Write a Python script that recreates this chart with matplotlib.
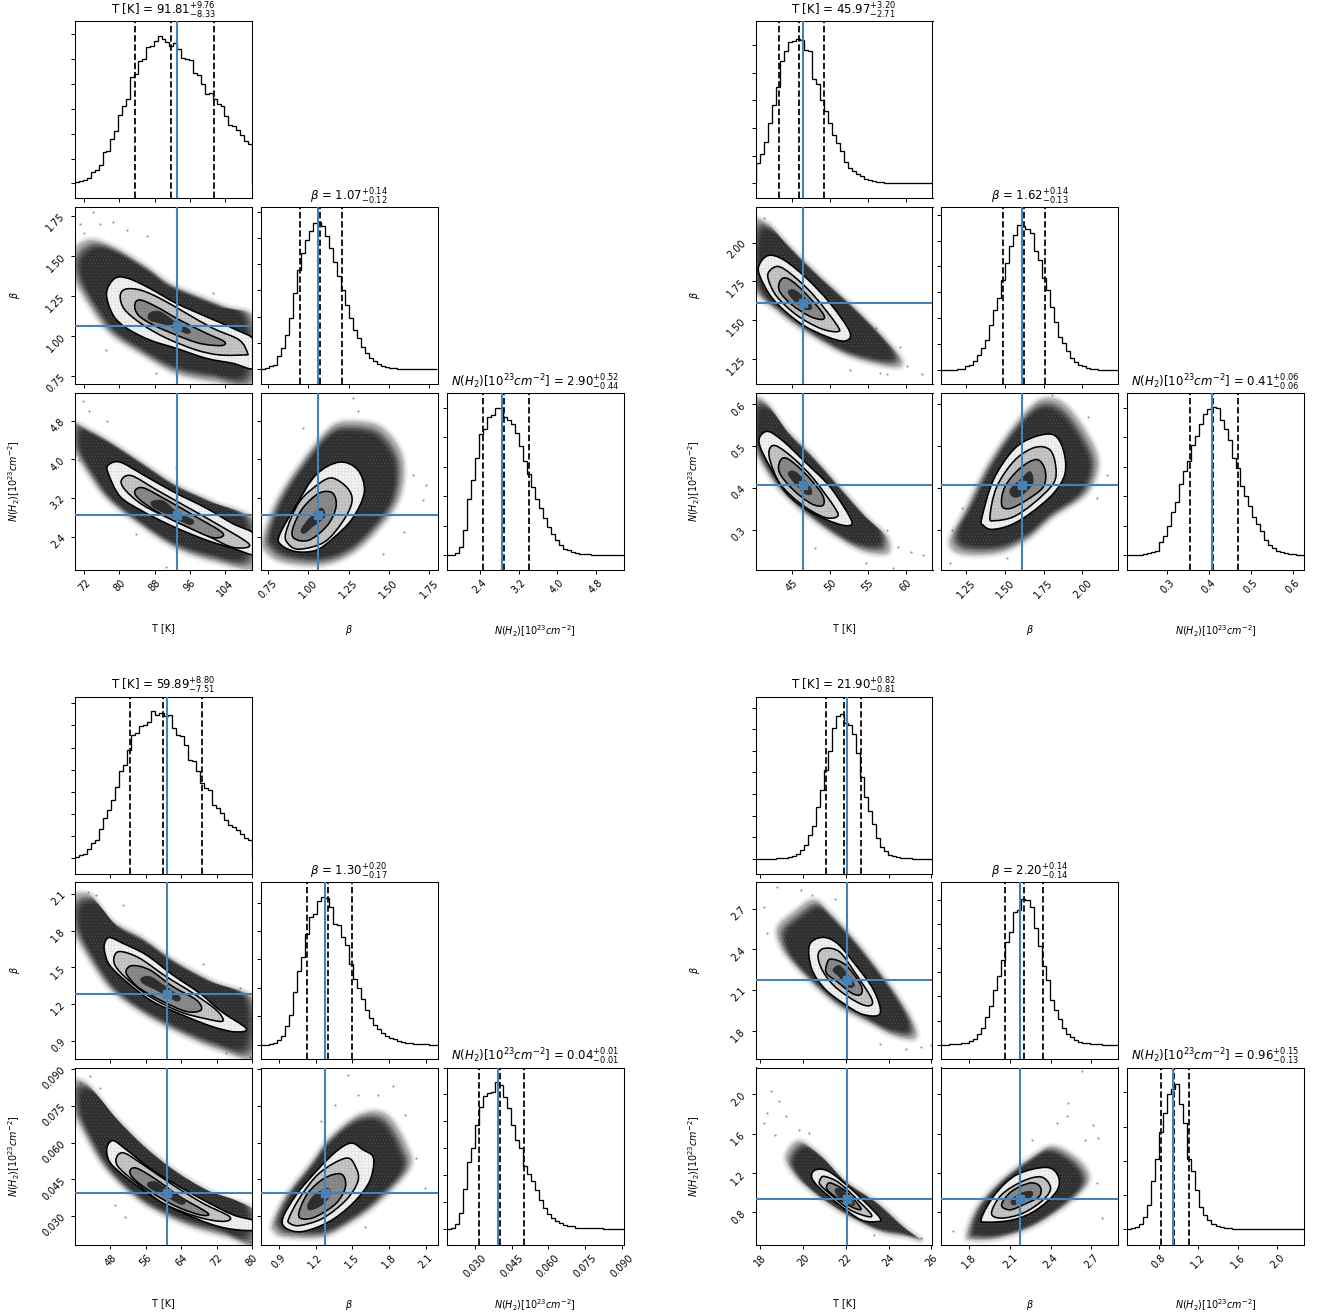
import numpy as np
import matplotlib
matplotlib.use("Agg")
import matplotlib.pyplot as plt
from matplotlib.path import Path
from matplotlib.patches import PathPatch

plt.rcParams['hatch.linewidth'] = 0.3

# ---- histograms, heights in units of the (unlabelled) y tick spacing ----
a_t_hist = [.05,.08,.12,.2,.44,.52,.75,1.25,1.3,1.8,2.1,2.77,3.1,3.4,4.3,4.4,4.93,5.0,5.5,5.53,5.73,5.93,5.8,5.7,5.53,5.65,5.4,5.03,5.0,4.97,4.45,4.35,4.0,3.58,3.65,3.38,3.18,3.13,2.7,2.37,2.3,2.14,1.96,1.7,1.6]
a_b_hist = [0,.03,.1,.16,.48,.8,1.31,1.94,2.9,3.79,4.42,4.93,5.25,5.57,5.6,5.44,5.06,4.61,4.1,3.53,3.02,2.45,1.94,1.5,1.18,.86,.61,.42,.29,.2,.13,.08,.05,.03,.01,0,0,0,0,0,0,0,0,0]
a_n_hist = [0,0,.07,.28,.85,1.9,2.55,3.3,4.1,4.3,4.7,4.75,5.0,5.0,4.7,4.6,4.45,4.15,3.7,3.2,2.75,2.3,1.9,1.6,1.25,.95,.7,.5,.33,.22,.16,.1,.07,.05,.03,.02,.01,0,0,0,0,0,0,0]
b_t_hist = [.75,1.05,1.5,2.18,2.84,3.48,4.41,4.77,5.11,5.13,5.22,5.17,4.81,4.77,3.75,3.57,3.02,2.6,2.18,1.76,1.46,1.16,.76,.55,.43,.35,.25,.16,.12,.07,.06,.05,.02,.01,0,0,0,0,0,0,0,0,0,0]
b_b_hist = [0,0,0,0,.01,.02,.12,.18,.35,.57,.83,1.15,1.73,2.32,2.77,3.48,4.13,4.77,5.23,5.61,5.55,5.45,5.29,4.58,4.26,3.54,3.09,2.44,1.86,1.28,1.02,.7,.44,.31,.18,.12,.05,.03,.01,0,0,0,0,0]
b_n_hist = [0,0,0,.01,.03,.07,.1,.15,.45,.65,1.0,1.45,1.8,2.4,2.85,3.2,3.75,4.05,4.45,4.8,4.95,5.05,5.0,4.6,4.3,3.9,3.3,2.95,2.35,2.0,1.65,1.3,1.05,.8,.5,.35,.25,.15,.09,.06,.04,.02,.01,0]
c_t_hist = [.07,.15,.18,.42,.68,.83,1.33,1.81,2.18,2.64,3.24,3.92,4.22,4.89,5.57,5.65,5.95,6.02,6.17,6.66,6.48,6.55,6.4,6.48,5.87,5.57,5.5,5.12,4.44,4.37,3.92,3.39,3.16,3.09,2.41,2.26,2.03,1.73,1.51,1.43,1.28,1.08,.9,.83]
c_b_hist = [0,0,.01,.05,.15,.3,.65,1.05,1.85,2.6,3.1,3.9,4.5,4.6,5.05,5.2,5.15,4.86,4.25,4.2,3.8,3.5,2.85,2.3,2.0,1.6,1.2,.95,.7,.55,.42,.3,.22,.18,.12,.08,.06,.05,.03,.02,.01,.01,0,0]
c_n_hist = [0,.03,.2,.6,1.5,2.5,3.0,3.85,4.55,4.95,5.05,5.1,5.45,5.36,4.9,4.5,3.85,3.3,3.0,2.35,2.05,1.8,1.45,1.1,.8,.55,.4,.3,.22,.17,.13,.1,.06,.05,.04,.035,.03,.03,.03,.02,.01,.01,0,0]
d_t_hist = [0,0,0,0,.01,.02,.03,.05,.1,.15,.22,.4,.65,1.1,1.5,2.4,3.2,4.1,5.0,6.08,6.6,6.7,6.3,6.2,5.8,4.9,3.8,2.85,2.2,1.6,.95,.55,.35,.18,.12,.08,.05,.03,.02,.01,0,0,0,0]
d_b_hist = [0,0,.01,.02,.03,.05,.08,.14,.25,.45,.7,1.15,1.6,2.25,2.85,3.5,4.25,4.7,5.53,5.6,6.05,6.0,5.7,4.85,4.1,3.25,2.7,1.85,1.45,1.05,.7,.45,.32,.2,.12,.08,.05,.03,.02,.01,0,0,0,0]
d_n_hist = [.01,.02,.05,.15,.35,.7,1.4,2.05,2.85,3.4,3.95,4.1,4.25,3.65,3.1,2.05,1.7,1.15,.65,.42,.28,.15,.09,.05,.03,.02,.01,.01,0,0,0,0,0,0,0,0,0,0,0,0,0,0,0,0]

# ---- panel A: T vs beta ----
a_tb_cloud = [(69.2,1.514),(73,1.597),(78.6,1.556),(86.2,1.432),(91.4,1.328),(97.4,1.256),(104.2,1.183),(111,1.10),(111,.707),(102,.717),(92.9,.769),(84.7,.893),(77.9,1.018),(73.4,1.183),(69.6,1.369)]
a_tb_c1 = [(77.1,1.266),(79,1.359),(82,1.359),(86.9,1.297),(92.9,1.204),(99.7,1.121),(105.7,1.049),(111,.966),(111,.80),(105.7,.831),(99.7,.862),(92.9,.924),(86.9,.976),(81.7,1.049),(78.6,1.131)]
a_tb_c2 = [(80.2,1.245),(81.3,1.291),(84.7,1.287),(89.2,1.235),(95.2,1.142),(101.2,1.049),(107.2,.976),(109.1,.893),(108.4,.883),(102.7,.883),(97.4,.914),(90.7,.987),(85.4,1.069),(81.3,1.162)]
a_tb_c3 = [(83.5,1.194),(84.7,1.225),(88.4,1.183),(93.7,1.10),(99.7,1.018),(103.8,.966),(103.1,.941),(98.2,.955),(92.9,1.007),(87.7,1.069),(84.3,1.131)]
a_tb_core = [(86.9,1.142),(89.2,1.152),(92.6,1.09),(95.9,1.038),(95.2,1.018),(90.7,1.069),(86.9,1.10)]
a_tb_dots = [(74,1.77),(78.6,1.71),(86.2,1.62),(71.9,1.64),(77.1,.914),(88.4,.769),(101.2,1.266),(75.6,1.70),(71.1,1.70),(81.7,1.66)]
# panel A: T vs N
a_tn_cloud = [(69.2,4.75),(72.6,4.64),(77.9,4.37),(85.4,3.92),(92.9,3.47),(101.2,3.12),(111,2.71),(111,1.78),(102,1.88),(92.9,2.16),(84.7,2.64),(77.1,3.19),(72.6,3.75),(69.2,4.30)]
a_tn_c1 = [(77.5,3.88),(80.2,3.94),(85.4,3.68),(92.2,3.33),(99.7,2.99),(105.7,2.67),(111,2.43),(111,2.03),(105.7,2.16),(99.7,2.33),(92.2,2.61),(85.4,2.92),(80.2,3.23),(77.5,3.71)]
a_tn_c2 = [(80.5,3.57),(82.8,3.66),(88.4,3.37),(95.2,3.02),(102,2.67),(109.5,2.24),(105.7,2.18),(99.7,2.43),(92.2,2.74),(85.4,3.05),(81.3,3.37)]
a_tn_c3 = [(83.5,3.33),(85.4,3.41),(90.7,3.16),(97.4,2.81),(103.5,2.47),(101.2,2.38),(95.2,2.61),(89.2,2.88),(84.7,3.16)]
a_tn_core = [(87.3,3.12),(89.9,3.14),(92.9,2.92),(96.7,2.74),(95.9,2.65),(92.2,2.81),(88,2.99)]
a_tn_dots = [(71.7,5.21),(73.2,5.0),(77.3,4.8),(70.8,3.99),(83.9,2.45),(92.9,3.82),(90.7,1.78)]
# panel A: beta vs N
a_bn_cloud = [(.717,2.36),(.80,3.12),(.944,3.88),(1.131,4.64),(1.275,4.78),(1.462,4.64),(1.586,4.02),(1.565,3.19),(1.42,2.50),(1.255,2.02),(1.068,1.81),(.841,1.88),(.737,2.09)]
a_bn_c1 = [(.82,2.43),(.924,3.05),(1.048,3.68),(1.193,3.94),(1.307,3.78),(1.348,3.33),(1.275,2.78),(1.151,2.36),(1.048,2.12),(.924,2.09),(.83,2.23)]
a_bn_c2 = [(.861,2.50),(.944,3.12),(1.068,3.50),(1.151,3.61),(1.244,3.40),(1.271,3.12),(1.213,2.71),(1.10,2.29),(.944,2.14),(.872,2.26)]
a_bn_c3 = [(.903,2.57),(.965,2.99),(1.068,3.30),(1.151,3.30),(1.172,3.02),(1.12,2.64),(1.006,2.33),(.913,2.36)]
a_bn_core = [(.955,2.54),(1.006,2.78),(1.079,2.99),(1.10,2.81),(1.027,2.61),(.975,2.47)]
a_bn_dots = [(1.275,5.27),(1.73,3.47),(1.648,3.68),(1.596,2.50),(1.462,2.05),(.965,4.64),(1.71,3.16),(1.307,4.99)]

# ---- panel B ----
b_tb_cloud = [(39.7,2.116),(41.7,2.126),(44.3,1.997),(47.8,1.824),(53.1,1.587),(56.6,1.415),(59.2,1.264),(59.2,1.2),(56.6,1.21),(52.2,1.274),(47.8,1.393),(43.4,1.544),(39.7,1.738)]
b_tb_c1 = [(40.7,1.857),(41.9,1.917),(43.9,1.889),(46.9,1.771),(50,1.609),(52.6,1.425),(52,1.365),(49.6,1.393),(46.1,1.479),(42.6,1.63),(40.8,1.781)]
b_tb_c2 = [(42,1.814),(43.2,1.846),(45,1.792),(47.8,1.663),(50.9,1.469),(51,1.425),(48.7,1.447),(45.6,1.533),(43,1.652),(41.9,1.76)]
b_tb_c3 = [(43.4,1.749),(44.3,1.771),(46.1,1.706),(48.9,1.555),(49.1,1.505),(47.4,1.523),(45,1.598),(43.4,1.684)]
b_tb_core = [(44.5,1.684),(45.4,1.691),(47.2,1.62),(47.6,1.576),(46.7,1.57),(45.2,1.63)]
b_tb_dots = [(57.5,1.151),(62.1,1.151),(60.1,1.205),(56.6,1.156),(52.6,1.177),(41.3,2.16),(56.1,1.447),(59.2,1.328)]
b_tn_cloud = [(39.7,.61),(41.7,.602),(44.3,.539),(47.8,.475),(51.3,.403),(54.8,.331),(57.5,.283),(57.5,.244),(54,.252),(49.6,.299),(45.2,.363),(42.1,.427),(39.7,.515)]
b_tn_c1 = [(40.8,.523),(41.9,.535),(43.9,.511),(46.9,.459),(50,.403),(52.6,.331),(52.7,.311),(50.9,.315),(47.4,.343),(44.3,.387),(42.1,.451),(40.8,.499)]
b_tn_c2 = [(42.1,.495),(43,.5),(45.2,.471),(47.8,.423),(50.7,.351),(50.9,.331),(49.1,.331),(46.1,.363),(43.4,.411),(42.1,.467)]
b_tn_c3 = [(43.4,.463),(44.3,.471),(46.5,.439),(48.9,.387),(49.1,.359),(47.6,.362),(45.2,.395),(43.4,.435)]
b_tn_core = [(44.5,.435),(45.4,.439),(47.2,.407),(47.6,.387),(46.7,.387),(45.2,.415)]
b_tn_dots = [(60.7,.248),(59,.26),(62.3,.24),(58.3,.208),(48,.256),(57.5,.299),(54.8,.22)]
b_bn_cloud = [(1.145,.276),(1.253,.355),(1.382,.451),(1.554,.547),(1.726,.61),(1.877,.602),(2.028,.531),(2.103,.459),(2.028,.387),(1.813,.331),(1.64,.276),(1.447,.244),(1.21,.244)]
b_bn_c1 = [(1.35,.327),(1.425,.419),(1.554,.491),(1.683,.521),(1.813,.527),(1.877,.491),(1.888,.435),(1.813,.387),(1.662,.339),(1.533,.311),(1.414,.301),(1.36,.311)]
b_bn_c2 = [(1.403,.331),(1.447,.403),(1.565,.467),(1.694,.497),(1.791,.491),(1.828,.451),(1.813,.411),(1.683,.363),(1.554,.331),(1.436,.322)]
b_bn_c3 = [(1.479,.359),(1.5,.403),(1.597,.447),(1.705,.468),(1.759,.443),(1.748,.403),(1.64,.371),(1.533,.351)]
b_bn_core = [(1.533,.395),(1.597,.419),(1.662,.439),(1.679,.411),(1.608,.383),(1.554,.379)]
b_bn_dots = [(1.156,.299),(1.22,.351),(1.802,.622),(2.157,.431),(2.092,.375),(2.039,.57),(1.145,.22),(1.511,.232)]

# ---- panel C ----
c_tb_cloud = [(39.2,2.064),(43.3,2.092),(48.6,1.874),(55.4,1.737),(62.9,1.546),(71.2,1.383),(81,1.219),(81,.77),(72.7,.824),(62.9,.974),(54.6,1.138),(47.8,1.328),(42.6,1.601),(39.2,1.846)]
c_tb_c1 = [(46.7,1.696),(47.8,1.743),(50.8,1.696),(56.1,1.601),(62.1,1.437),(68.2,1.287),(73.1,1.137),(78.7,.999),(76.1,.972),(71.2,1.013),(65.2,1.096),(57.6,1.219),(51.6,1.383),(47.8,1.519),(46.7,1.628)]
c_tb_c2 = [(49,1.601),(50.5,1.628),(54.6,1.574),(60.6,1.424),(66.7,1.287),(71.9,1.151),(73.4,1.061),(69.7,1.078),(63.6,1.138),(56.9,1.26),(51.6,1.41),(49,1.519)]
c_tb_c3 = [(51.6,1.478),(53.1,1.514),(56.9,1.478),(62.1,1.342),(67.4,1.233),(68.5,1.151),(65.2,1.138),(59.9,1.219),(54.6,1.328),(52,1.424)]
c_tb_core = [(55,1.41),(56.9,1.424),(59.9,1.356),(63.6,1.26),(62.9,1.225),(59.1,1.301),(55.4,1.369)]
c_tb_dots = [(42.9,2.119),(68.9,1.525),(50.8,2.01),(77.2,1.328),(74.2,.797),(79.5,.77),(44.8,2.09)]
c_tn_cloud = [(39.2,.0850),(42.9,.0836),(48.6,.0714),(55.4,.0591),(62.9,.0483),(71.2,.0394),(81,.032),(81,.0183),(74.2,.0217),(65.2,.0265),(55.4,.0353),(47.1,.0489),(41.8,.0646),(39.2,.0755)]
c_tn_c1 = [(47.2,.0578),(48.6,.0608),(51.6,.0571),(56.9,.0496),(62.9,.0428),(68.9,.0367),(75.7,.0306),(81,.0279),(81,.0245),(76.5,.0245),(71.2,.0265),(63.6,.032),(56.9,.0387),(50.8,.0469),(47.8,.0523)]
c_tn_c2 = [(49.5,.0544),(51.2,.0557),(55.4,.0510),(62.1,.0428),(68.9,.0353),(74.9,.0299),(73.4,.0279),(67.4,.0299),(59.9,.0353),(53.9,.0435),(49.7,.0503)]
c_tn_c3 = [(52.4,.0483),(53.9,.0496),(58.4,.0449),(63.6,.0381),(70,.0313),(68.2,.0306),(62.9,.0340),(57.6,.0394),(53.5,.0449)]
c_tn_core = [(56.5,.0435),(58.4,.0439),(61.4,.0401),(64.8,.0367),(64,.0349),(60.6,.0381),(56.9,.0415)]
c_tn_dots = [(43.3,.0873),(41.1,.0843),(45.6,.0823),(49,.0347),(51.2,.0299),(79.5,.0197)]
c_bn_cloud = [(.851,.0279),(.96,.0387),(1.151,.0510),(1.314,.0619),(1.56,.0714),(1.778,.0714),(1.941,.0591),(1.969,.0496),(1.723,.036),(1.505,.0279),(1.26,.0217),(.96,.0217),(.864,.0238)]
c_bn_c1 = [(.932,.0292),(1.042,.0387),(1.205,.0483),(1.369,.0564),(1.491,.0598),(1.587,.0571),(1.674,.0537),(1.641,.0442),(1.505,.0353),(1.314,.0279),(1.096,.0238),(.96,.0251)]
c_bn_c2 = [(.982,.0292),(1.069,.0374),(1.232,.0476),(1.451,.0537),(1.532,.0496),(1.546,.0442),(1.451,.0367),(1.26,.0292),(1.069,.0262),(.987,.0272)]
c_bn_c3 = [(1.063,.0313),(1.137,.0394),(1.273,.0455),(1.41,.0472),(1.445,.0421),(1.369,.0353),(1.205,.0299),(1.096,.0289)]
c_bn_core = [(1.137,.0347),(1.192,.0387),(1.301,.0415),(1.314,.0381),(1.232,.034),(1.151,.0326)]
c_bn_dots = [(1.464,.0877),(1.71,.0795),(1.832,.083),(1.355,.0755),(1.928,.0714),(2.023,.0537),(2.091,.0415),(1.601,.0258),(1.246,.0687),(1.546,.0795)]

# ---- panel D ----
d_tb_cloud = [(18.8,2.554),(19.6,2.678),(20.5,2.764),(21.3,2.665),(22.5,2.456),(23.6,2.234),(24.5,2.037),(25.2,1.84),(25.2,1.741),(24.2,1.766),(23,1.865),(21.6,1.988),(20.2,2.185),(19.1,2.382)]
d_tb_c1 = [(20.3,2.431),(20.9,2.488),(21.6,2.444),(22.4,2.296),(23.3,2.099),(23.6,1.926),(22.8,1.919),(21.9,2.0),(21,2.111),(20.4,2.259)]
d_tb_c2 = [(20.7,2.357),(21,2.407),(21.7,2.382),(22.4,2.234),(23.2,2.037),(23.1,1.983),(22.5,2.012),(21.5,2.123),(20.9,2.246)]
d_tb_c3 = [(21.1,2.283),(21.3,2.328),(22,2.283),(22.7,2.136),(22.7,2.067),(22.3,2.074),(21.6,2.16),(21.1,2.222)]
d_tb_core = [(21.4,2.246),(21.7,2.279),(22.1,2.21),(22.4,2.136),(22.1,2.123),(21.7,2.197)]
d_tb_dots = [(18.2,2.71),(18.8,2.863),(20.4,2.801),(21.5,2.771),(25.5,1.68),(26,1.69),(24.8,1.667),(23.6,1.704),(18.3,2.518),(19.9,2.838)]
d_tn_cloud = [(19.2,1.37),(19.8,1.522),(20.8,1.387),(22,1.116),(23.5,.895),(24.8,.641),(25.5,.522),(24.8,.556),(23.6,.607),(22,.777),(20.6,.98),(19.6,1.183)]
d_tn_c1 = [(20.4,1.166),(20.6,1.234),(21.2,1.217),(22.2,1.048),(23.1,.861),(23.6,.743),(23.5,.709),(22.7,.726),(21.6,.895),(20.7,1.065)]
d_tn_c2 = [(20.8,1.133),(21,1.166),(21.7,1.099),(22.7,.895),(23.2,.777),(23,.76),(22.2,.827),(21.3,.98),(20.8,1.082)]
d_tn_c3 = [(21.1,1.065),(21.3,1.099),(22,1.014),(22.7,.844),(22.4,.844),(21.7,.929),(21.2,1.014)]
d_tn_core = [(21.5,1.031),(21.8,1.031),(22.4,.895),(22.2,.878),(21.7,.946)]
d_tn_dots = [(18.3,1.81),(19.2,1.777),(18.5,2.031),(18.7,1.59),(18.2,1.709),(18.9,1.929),(25.5,.539),(23.3,.573),(20.3,1.607),(19.8,1.641)]
d_bn_cloud = [(1.778,.573),(1.852,.844),(2.024,1.116),(2.246,1.353),(2.419,1.472),(2.616,1.319),(2.678,1.116),(2.517,.878),(2.271,.658),(2.024,.539),(1.827,.522)]
d_bn_c1 = [(1.889,.743),(1.987,.98),(2.148,1.183),(2.369,1.258),(2.456,1.166),(2.443,1.014),(2.295,.827),(2.123,.726),(1.926,.702)]
d_bn_c2 = [(1.963,.794),(2.037,.98),(2.197,1.12),(2.332,1.16),(2.399,1.052),(2.345,.929),(2.197,.794),(2.037,.743)]
d_bn_c3 = [(2.037,.878),(2.111,1.014),(2.246,1.099),(2.32,1.065),(2.315,.963),(2.197,.878),(2.098,.827)]
d_bn_core = [(2.111,.929),(2.185,.997),(2.258,1.014),(2.258,.963),(2.185,.912),(2.123,.878)]
d_bn_dots = [(2.517,1.777),(2.443,1.709),(2.653,1.539),(2.751,1.556),(2.714,1.692),(2.776,.743),(2.259,1.539),(1.679,.607),(2.53,1.912),(2.739,1.099),(2.628,2.234)]

# axis limits, tick labels, quantiles, truths and hist y ranges per corner plot
a_lims = [(69.96, 110.1), (.702, 1.803), (1.71, 5.37)]
b_lims = [(40.2, 63.5), (1.087, 2.23), (.204, .627)]
c_lims = [(40, 80), (.75, 2.197), (.0185, .0906)]
d_lims = [(17.78, 26.05), (1.59, 2.897), (.475, 2.272)]

a_ticks = [["72", "80", "88", "96", "104"], ["0.75", "1.00", "1.25", "1.50", "1.75"], ["2.4", "3.2", "4.0", "4.8"]]
b_ticks = [["45", "50", "55", "60"], ["1.25", "1.50", "1.75", "2.00"], ["0.3", "0.4", "0.5", "0.6"]]
c_ticks = [["48", "56", "64", "72", "80"], ["0.9", "1.2", "1.5", "1.8", "2.1"], ["0.030", "0.045", "0.060", "0.075", "0.090"]]
d_ticks = [["18", "20", "22", "24", "26"], ["1.8", "2.1", "2.4", "2.7"], ["0.8", "1.2", "1.6", "2.0"]]

a_quant = [(83.48, 91.81, 101.57), (.95, 1.07, 1.21), (2.46, 2.90, 3.42)]
b_quant = [(43.26, 45.97, 49.17), (1.49, 1.62, 1.76), (.355, .41, .469)]
c_quant = [(52.38, 59.89, 68.69), (1.13, 1.30, 1.50), (.0319, .0401, .0500)]
d_quant = [(21.09, 21.90, 22.72), (2.06, 2.20, 2.34), (.82, .955, 1.10)]

a_truth = [93.2, 1.06, 2.855]
b_truth = [46.5, 1.61, .4064]
c_truth = [60.9, 1.28, .0393]
d_truth = [22.05, 2.17, .938]

a_titles = [("91.81", "8.33", "9.76"), ("1.07", "0.12", "0.14"), ("2.90", "0.44", "0.52")]
b_titles = [("45.97", "2.71", "3.20"), ("1.62", "0.13", "0.14"), ("0.41", "0.06", "0.06")]
c_titles = [("59.89", "7.51", "8.80"), ("1.30", "0.17", "0.20"), ("0.04", "0.01", "0.01")]
d_titles = [("21.90", "0.81", "0.82"), ("2.20", "0.14", "0.14"), ("0.96", "0.13", "0.15")]

a_hist_y = [(-.59, 6.54, 6), (-.57, 6.18, 6), (-.51, 5.51, 5)]
b_hist_y = [(-.53, 5.86, 5), (-.56, 6.3, 6), (-.51, 5.51, 5)]
c_hist_y = [(-.68, 7.3, 7), (-.51, 5.73, 5), (-.57, 6.0, 6)]
d_hist_y = [(-.68, 7.52, 7), (-.6, 6.76, 6), (-.45, 4.73, 4)]

names = ["T [K]", r"$\beta$", r"$N(H_2)[10^{23}cm^{-2}]$"]
blue = "#4682b4"

W, H = 1318, 1314
COLS_L = [75, 260.5, 446.5]
COLS_R = [755.5, 941, 1127]
ROWS_T = [21, 207, 393]
ROWS_B = [696.5, 882, 1067.5]
SIZE = 177

fig = plt.figure(figsize=(W / 100, H / 100), dpi=100)


def smooth(points, scale=1.0):
    # closed Catmull-Rom style curve through the read points
    pts = np.array(points, dtype=float)
    pts = pts.mean(axis=0) + (pts - pts.mean(axis=0)) * scale
    prev, nxt = np.roll(pts, 1, axis=0), np.roll(pts, -1, axis=0)
    nxt2 = np.roll(pts, -2, axis=0)
    verts = [pts[0]]
    codes = [Path.MOVETO]
    for p0, p1, p2, p3 in zip(prev, pts, nxt, nxt2):
        verts += [p1 + (p2 - p0) / 6, p2 - (p3 - p1) / 6, p2]
        codes += [Path.CURVE4] * 3
    return Path(verts, codes)


def new_axes(x, y):
    ax = fig.add_axes([x / W, 1 - (y + SIZE) / H, SIZE / W, SIZE / H])
    for s in ax.spines.values():
        s.set_linewidth(.75)
    ax.tick_params(length=2.9, width=.7, labelsize=7, pad=2.8)
    return ax


def draw_pair(ax, cloud, c1, c2, c3, core, dots):
    px, py = zip(*dots)
    ax.scatter(px, py, s=2.5, color="k", alpha=.4, linewidths=0, zorder=1)
    # scatter cloud: soft rim, then denser towards the middle
    for lw, alpha in [(6, .06), (4, .08), (2, .12)]:
        ax.add_patch(PathPatch(smooth(cloud), fc="none", ec="#444444", lw=lw, alpha=alpha, zorder=1.1))
    levels = [(1.0, .2), (.98, .22), (.96, .25), (.94, .3), (.92, .35), (.9, .4), (.88, .5), (.86, .6)]
    for n, (scale, alpha) in enumerate(levels):
        ax.add_patch(PathPatch(smooth(cloud, scale), fc="#2c2c2c", ec="none", alpha=alpha, zorder=1.2 + n / 100))
    ax.add_patch(PathPatch(smooth(cloud), fc="none", ec=(1, 1, 1, .14), lw=0, hatch=".....", zorder=1.4))
    for pts, col, z in [(c1, "#f2f2f2", 2), (c2, "#c6c6c6", 2.2), (c3, "#8a8a8a", 2.4)]:
        ax.add_patch(PathPatch(smooth(pts), fc=col, ec="k", lw=1.15, zorder=z))
        ax.add_patch(PathPatch(smooth(pts), fc="none", ec=(0, 0, 0, .1), lw=0, hatch="+++++", zorder=z + .05))
    ax.add_patch(PathPatch(smooth(core), fc="#2e2e2e", ec="#2e2e2e", lw=.6, zorder=2.6))


def draw_corner(x0s, y0s, lims, ticks, quant, truth, titles, hist_y, hists, pairs):
    tick_vals = [[float(s) for s in t] for t in ticks]
    for i in range(3):
        # diagonal
        ax = new_axes(x0s[i], y0s[i])
        edges = np.linspace(lims[i][0], lims[i][1], len(hists[i]) + 1)
        ax.stairs(hists[i], edges, color="k", lw=.95, zorder=3)
        for q in quant[i]:
            ax.axvline(q, color="k", ls="dashed", lw=1.25, zorder=4)
        ax.axvline(truth[i], color=blue, lw=1.5, zorder=5)
        ax.set_xlim(lims[i])
        ax.set_ylim(hist_y[i][0], hist_y[i][1])
        ax.set_yticks(range(hist_y[i][2] + 1))
        ax.set_yticklabels([])
        ax.set_xticks(tick_vals[i])
        med, lo, hi = titles[i]
        ax.set_title(f"{names[i]} = ${med}_{{-{lo}}}^{{+{hi}}}$", fontsize=8.5, pad=4.6)
        if i == 2:
            ax.set_xticklabels(ticks[i], rotation=45)
            ax.set_xlabel(names[i], fontsize=6.9)
            ax.xaxis.set_label_coords(.5, -.3)
        else:
            ax.set_xticklabels([])
        # below the diagonal
        for j in range(i):
            ax = new_axes(x0s[j], y0s[i])
            draw_pair(ax, *pairs[(j, i)])
            ax.axvline(truth[j], color=blue, lw=1.5, zorder=5)
            ax.axhline(truth[i], color=blue, lw=1.5, zorder=5)
            ax.plot(truth[j], truth[i], "s", color=blue, ms=6, zorder=6)
            ax.set_xlim(lims[j])
            ax.set_ylim(lims[i])
            ax.set_xticks(tick_vals[j])
            ax.set_yticks(tick_vals[i])
            if i == 2:
                ax.set_xticklabels(ticks[j], rotation=45)
                ax.set_xlabel(names[j], fontsize=6.9)
                ax.xaxis.set_label_coords(.5, -.3)
            else:
                ax.set_xticklabels([])
            if j == 0:
                ax.set_yticklabels(ticks[i], rotation=45)
                ax.set_ylabel(names[i], fontsize=6.9)
                ax.yaxis.set_label_coords(-.3, .5)
            else:
                ax.set_yticklabels([])


draw_corner(COLS_L, ROWS_T, a_lims, a_ticks, a_quant, a_truth, a_titles, a_hist_y,
            [a_t_hist, a_b_hist, a_n_hist],
            {(0, 1): (a_tb_cloud, a_tb_c1, a_tb_c2, a_tb_c3, a_tb_core, a_tb_dots),
             (0, 2): (a_tn_cloud, a_tn_c1, a_tn_c2, a_tn_c3, a_tn_core, a_tn_dots),
             (1, 2): (a_bn_cloud, a_bn_c1, a_bn_c2, a_bn_c3, a_bn_core, a_bn_dots)})
draw_corner(COLS_R, ROWS_T, b_lims, b_ticks, b_quant, b_truth, b_titles, b_hist_y,
            [b_t_hist, b_b_hist, b_n_hist],
            {(0, 1): (b_tb_cloud, b_tb_c1, b_tb_c2, b_tb_c3, b_tb_core, b_tb_dots),
             (0, 2): (b_tn_cloud, b_tn_c1, b_tn_c2, b_tn_c3, b_tn_core, b_tn_dots),
             (1, 2): (b_bn_cloud, b_bn_c1, b_bn_c2, b_bn_c3, b_bn_core, b_bn_dots)})
draw_corner(COLS_L, ROWS_B, c_lims, c_ticks, c_quant, c_truth, c_titles, c_hist_y,
            [c_t_hist, c_b_hist, c_n_hist],
            {(0, 1): (c_tb_cloud, c_tb_c1, c_tb_c2, c_tb_c3, c_tb_core, c_tb_dots),
             (0, 2): (c_tn_cloud, c_tn_c1, c_tn_c2, c_tn_c3, c_tn_core, c_tn_dots),
             (1, 2): (c_bn_cloud, c_bn_c1, c_bn_c2, c_bn_c3, c_bn_core, c_bn_dots)})
draw_corner(COLS_R, ROWS_B, d_lims, d_ticks, d_quant, d_truth, d_titles, d_hist_y,
            [d_t_hist, d_b_hist, d_n_hist],
            {(0, 1): (d_tb_cloud, d_tb_c1, d_tb_c2, d_tb_c3, d_tb_core, d_tb_dots),
             (0, 2): (d_tn_cloud, d_tn_c1, d_tn_c2, d_tn_c3, d_tn_core, d_tn_dots),
             (1, 2): (d_bn_cloud, d_bn_c1, d_bn_c2, d_bn_c3, d_bn_core, d_bn_dots)})

fig.savefig("out.png", dpi=100)
